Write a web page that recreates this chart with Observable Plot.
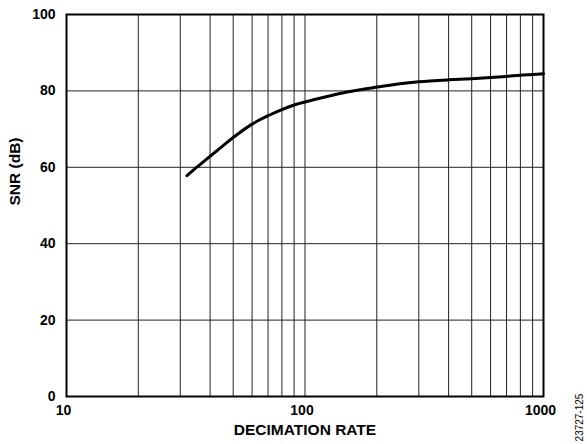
<!DOCTYPE html>
<html>
<head>
<meta charset="utf-8">
<script src="https://cdn.jsdelivr.net/npm/d3@7"></script>
<script src="https://cdn.jsdelivr.net/npm/@observablehq/plot@0.6"></script>
<style>
  html, body { margin: 0; padding: 0; background: #fff; }
  #chart { width: 587px; height: 444px; }
</style>
</head>
<body>
<div id="chart"></div>
<script>
const decimationRate = [32, 35, 40, 45, 50, 60, 70, 80, 90, 100, 125, 150, 200, 250, 300, 400, 500, 600, 700, 800, 900, 1000];
const snrDb = [57.8, 59.9, 62.9, 65.5, 67.8, 71.3, 73.5, 75.1, 76.3, 77.1, 78.6, 79.7, 81.0, 81.9, 82.4, 82.9, 83.2, 83.5, 83.8, 84.1, 84.3, 84.5];
const xTicks = [10, 100, 1000];
const xGrid = [20, 30, 40, 50, 60, 70, 80, 90, 100, 200, 300, 400, 500, 600, 700, 800, 900];
const yTicks = [0, 20, 40, 60, 80, 100];
const xLabel = "DECIMATION RATE";
const yLabel = "SNR (dB)";
const figureId = "23727-125";

const data = decimationRate.map((x, i) => ({x, y: snrDb[i]}));

const chart = Plot.plot({
  width: 587,
  height: 444,
  marginLeft: 66,
  marginRight: 44,
  marginTop: 14,
  marginBottom: 48,
  style: {fontFamily: "'Liberation Sans', Arial, sans-serif", background: "#fff", color: "#000"},
  x: {type: "log", domain: [10, 1000]},
  y: {domain: [0, 100]},
  marks: [
    Plot.ruleX(xGrid, {stroke: "#222", strokeWidth: 1}),
    Plot.ruleY(yTicks, {stroke: "#222", strokeWidth: 1}),
    Plot.frame({stroke: "#000", strokeWidth: 2}),
    Plot.axisX(xTicks, {tickSize: 0, tickPadding: 9, dx: -3, fontSize: 14, fontWeight: "bold", label: null, tickFormat: d => String(d)}),
    Plot.axisY(yTicks, {tickSize: 0, tickPadding: 11, fontSize: 14, fontWeight: "bold", label: null}),
    Plot.line(data, {x: "x", y: "y", stroke: "#000", strokeWidth: 3, curve: "catmull-rom"}),
    Plot.text([xLabel], {frameAnchor: "bottom", dy: 38, fontSize: 15.5, fontWeight: "bold", fill: "#000"}),
    Plot.text([yLabel], {frameAnchor: "left", dx: -51, rotate: -90, fontSize: 15.5, fontWeight: "bold", fill: "#000"}),
    Plot.text([figureId], {frameAnchor: "bottom-right", textAnchor: "middle", dx: 39, dy: 21, rotate: -90, fontSize: 10, fill: "#000"})
  ]
});
document.getElementById("chart").appendChild(chart);
</script>
</body>
</html>
